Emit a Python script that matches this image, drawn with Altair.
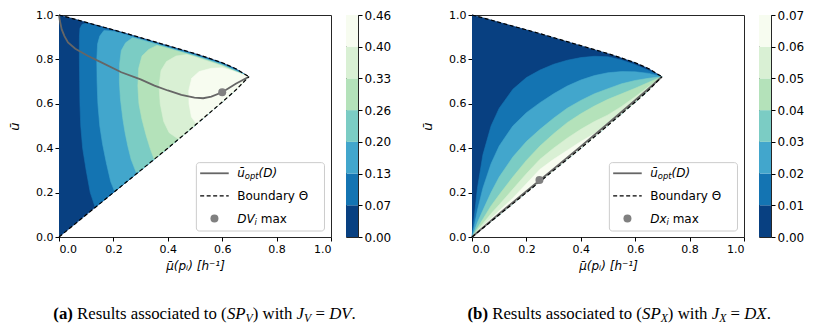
import altair as alt
import pandas as pd

# ---------------- data ----------------
TICKS = [0.0, 0.2, 0.4, 0.6, 0.8, 1.0]
BAND_COLORS = ["#084081", "#1474b2", "#42a6cc", "#7bccc4", "#b4e2ba", "#d9f0d4", "#f7fcf0"]
CB_A_EDGES = [0.0, 0.0661, 0.1323, 0.1984, 0.2646, 0.3307, 0.3969, 0.463]
CB_B_EDGES = [0.0, 0.01, 0.02, 0.03, 0.04, 0.05, 0.06, 0.07]

# boundary Theta (upper and lower edges)
UB_X = [0.0, 0.05, 0.1, 0.15, 0.2, 0.25, 0.3, 0.35, 0.4, 0.45, 0.5, 0.55, 0.6, 0.65, 0.698]
UB_Y = [1.0, 0.984, 0.967, 0.95, 0.933, 0.916, 0.898, 0.88, 0.862, 0.844, 0.826, 0.806, 0.785, 0.758, 0.722]
LB_X = [0.0, 0.1, 0.2, 0.3, 0.4, 0.5, 0.6, 0.65, 0.698]
LB_Y = [0.0, 0.1, 0.2, 0.3, 0.4, 0.503, 0.608, 0.662, 0.722]

# panel (a): level curves (from lower edge, up the left arm, along the top to the tip)
A1_X = [0.133, 0.115, 0.100, 0.087, 0.080, 0.077, 0.076, 0.075, 0.075, 0.077, 0.085, 0.10, 0.15, 0.2, 0.25, 0.3, 0.35, 0.4, 0.45, 0.5, 0.55, 0.6, 0.65, 0.698]
A1_Y = [0.134, 0.200, 0.300, 0.400, 0.500, 0.600, 0.700, 0.800, 0.900, 0.940, 0.958, 0.963, 0.946, 0.929, 0.912, 0.894, 0.876, 0.858, 0.840, 0.822, 0.802, 0.781, 0.754, 0.722]
A2_X = [0.204, 0.19, 0.174, 0.16, 0.15, 0.143, 0.14, 0.139, 0.142, 0.15, 0.165, 0.2, 0.25, 0.3, 0.35, 0.4, 0.45, 0.5, 0.55, 0.6, 0.65, 0.698]
A2_Y = [0.207, 0.25, 0.335, 0.42, 0.5, 0.6, 0.7, 0.8, 0.87, 0.905, 0.93, 0.927, 0.91, 0.892, 0.874, 0.856, 0.838, 0.82, 0.8, 0.779, 0.752, 0.722]
A3_X = [0.284, 0.265, 0.253, 0.243, 0.235, 0.226, 0.222, 0.223, 0.229, 0.245, 0.27, 0.3, 0.35, 0.4, 0.45, 0.5, 0.55, 0.6, 0.65, 0.698]
A3_Y = [0.29, 0.35, 0.41, 0.47, 0.53, 0.62, 0.7, 0.78, 0.84, 0.875, 0.897, 0.889, 0.871, 0.853, 0.835, 0.817, 0.797, 0.776, 0.749, 0.722]
A4_X = [0.35, 0.335, 0.32, 0.305, 0.294, 0.29, 0.293, 0.305, 0.33, 0.36, 0.4, 0.45, 0.5, 0.55, 0.6, 0.65, 0.698]
A4_Y = [0.35, 0.4, 0.46, 0.53, 0.6, 0.68, 0.76, 0.815, 0.845, 0.863, 0.85, 0.832, 0.814, 0.794, 0.773, 0.746, 0.722]
A5_X = [0.44, 0.405, 0.385, 0.372, 0.368, 0.375, 0.395, 0.43, 0.47, 0.5, 0.55, 0.6, 0.65, 0.698]
A5_Y = [0.44, 0.47, 0.52, 0.6, 0.68, 0.75, 0.79, 0.815, 0.822, 0.811, 0.791, 0.77, 0.743, 0.722]
A6_X = [0.505, 0.487, 0.478, 0.477, 0.488, 0.515, 0.56, 0.6, 0.64, 0.698]
A6_Y = [0.51, 0.54, 0.6, 0.66, 0.715, 0.745, 0.76, 0.762, 0.748, 0.722]

# panel (b): level curves from the origin to the tip
B_X = [0.0, 0.005, 0.01, 0.02, 0.04, 0.07, 0.1, 0.15, 0.2, 0.25, 0.3, 0.35, 0.4, 0.45, 0.5, 0.55, 0.6, 0.65, 0.698]
B1_Y = [0.0, 0.06, 0.11, 0.22, 0.37, 0.50, 0.58, 0.665, 0.718, 0.752, 0.778, 0.796, 0.808, 0.814, 0.812, 0.797, 0.776, 0.75, 0.722]
B2_Y = [0.0, 0.03, 0.06, 0.12, 0.22, 0.33, 0.41, 0.50, 0.56, 0.605, 0.645, 0.68, 0.707, 0.727, 0.74, 0.745, 0.744, 0.737, 0.722]
B3_Y = [0.0, 0.015, 0.03, 0.065, 0.12, 0.20, 0.27, 0.36, 0.43, 0.485, 0.535, 0.58, 0.615, 0.645, 0.668, 0.69, 0.705, 0.715, 0.722]
B4_Y = [0.0, 0.01, 0.02, 0.04, 0.08, 0.14, 0.19, 0.27, 0.345, 0.41, 0.465, 0.515, 0.555, 0.59, 0.62, 0.645, 0.67, 0.697, 0.722]
B5_Y = [0.0, 0.007, 0.014, 0.03, 0.06, 0.105, 0.145, 0.215, 0.285, 0.35, 0.40, 0.445, 0.485, 0.52, 0.55, 0.588, 0.632, 0.678, 0.722]
B6_X = [0.0, 0.005, 0.01, 0.02, 0.04, 0.07, 0.1, 0.15, 0.2, 0.25, 0.3, 0.35, 0.4, 0.45, 0.5, 0.55]
B6_Y = [0.0, 0.006, 0.012, 0.024, 0.048, 0.083, 0.118, 0.175, 0.24, 0.305, 0.35, 0.39, 0.43, 0.465, 0.51, 0.555]

# optimal-u curves and maxima
A_OPT_X = [0.0, 0.003, 0.01, 0.02, 0.033, 0.06, 0.107, 0.15, 0.229, 0.3, 0.351, 0.4, 0.45, 0.498, 0.53, 0.56, 0.6, 0.65, 0.698]
A_OPT_Y = [1.0, 0.975, 0.935, 0.905, 0.876, 0.848, 0.815, 0.79, 0.742, 0.71, 0.682, 0.66, 0.64, 0.628, 0.625, 0.632, 0.652, 0.69, 0.722]
A_MAX = [0.6, 0.652]
B_OPT_X = [0.0, 0.1, 0.2, 0.3, 0.4, 0.5, 0.6, 0.65, 0.698]
B_OPT_Y = [0.0, 0.105, 0.206, 0.307, 0.408, 0.511, 0.616, 0.669, 0.722]
B_MAX = [0.248, 0.257]

# legend layout (data units of the panel)
LEG_BOX = [0.505, 0.976, 0.027, 0.335]
LEG_ROWS = [0.287, 0.185, 0.083]
LEG_SAMPLE = [0.519, 0.624]
LEG_TEXT_X = 0.655

X_TITLE = "μ̄(pᵢ) [h⁻¹]"
Y_TITLE = "ū"

# caption runs: (text, style, weight, scale, dy)
CAP_A = [("(a)", "normal", "bold", 1.0, 0), (" Results associated to (", "normal", "normal", 1.0, 0),
         ("SP", "italic", "normal", 1.0, 0), ("V", "italic", "normal", 0.7, 4), (") with ", "normal", "normal", 1.0, 0),
         ("J", "italic", "normal", 1.0, 0), ("V", "italic", "normal", 0.7, 4), (" = ", "normal", "normal", 1.0, 0),
         ("DV", "italic", "normal", 1.0, 0), (".", "normal", "normal", 1.0, 0)]
CAP_B = [("(b)", "normal", "bold", 1.0, 0), (" Results associated to (", "normal", "normal", 1.0, 0),
         ("SP", "italic", "normal", 1.0, 0), ("X", "italic", "normal", 0.7, 4), (") with ", "normal", "normal", 1.0, 0),
         ("J", "italic", "normal", 1.0, 0), ("X", "italic", "normal", 0.7, 4), (" = ", "normal", "normal", 1.0, 0),
         ("DX", "italic", "normal", 1.0, 0), (".", "normal", "normal", 1.0, 0)]
LEG_A1 = [("ū", "italic", "normal", 1.0, 0), ("opt", "italic", "normal", 0.7, 3), ("(D)", "italic", "normal", 1.0, 0)]
LEG_A3 = [("DV", "italic", "normal", 1.0, 0), ("i", "italic", "normal", 0.7, 3), (" max", "normal", "normal", 1.0, 0)]
LEG_B3 = [("Dx", "italic", "normal", 1.0, 0), ("i", "italic", "normal", 0.7, 3), (" max", "normal", "normal", 1.0, 0)]

# ---------------- styling ----------------
W, H = 272, 222
CB_W = 12
CAP_SIZE = 16.8
LEG_SIZE = 12
TICK_SIZE = 11

TIMES = {' ': 250, '(': 333, ')': 333, '.': 250, '=': 564, 'a': 444, 'b': 500, 'c': 444, 'd': 500, 'e': 444,
         'h': 500, 'i': 278, 'l': 278, 'o': 500, 'R': 667, 's': 389, 't': 278, 'u': 500, 'w': 722, 'S': 556,
         'P': 556, 'J': 389, 'D': 722, 'V': 722, 'X': 722}
TIMES_I = {'S': 500, 'P': 611, 'J': 444, 'D': 722, 'V': 611, 'X': 611}
TIMES_B = {'(': 333, ')': 333, 'a': 500, 'b': 556}
DJV = {'u': 634, 'ū': 634, 'o': 612, 'p': 635, 't': 392, '(': 390, ')': 390, 'D': 770, ' ': 318,
       'm': 974, 'a': 613, 'x': 592, 'i': 278, 'V': 684}


def width_of(text, style, weight, family):
    w = 0
    for ch in text:
        if family == "times":
            if weight == "bold" and ch in TIMES_B:
                w += TIMES_B[ch]
            elif style == "italic" and ch in TIMES_I:
                w += TIMES_I[ch]
            else:
                w += TIMES.get(ch, 500)
        else:
            w += DJV.get(ch, 600)
    return w / 1000.0


XS = alt.Scale(domain=[0, 1], nice=False, zero=False)
YS = alt.Scale(domain=[0, 1], nice=False, zero=False)
X_AX = alt.Axis(values=TICKS, format=".1f", title=X_TITLE, titleFontStyle="italic", titleFontWeight="normal",
                titleFontSize=12, titlePadding=6, domain=False, grid=False)
Y_AX = alt.Axis(values=TICKS, format=".1f", title=Y_TITLE, titleFontStyle="italic", titleFontWeight="normal",
                titleFontSize=13, titlePadding=14, domain=False, grid=False)


def xenc(f="x"):
    return alt.X(f + ":Q", scale=XS, axis=X_AX)


def yenc(f="y"):
    return alt.Y(f + ":Q", scale=YS, axis=Y_AX)


def poly(xs, ys, color):
    df = pd.DataFrame({"x": xs, "y": ys, "i": list(range(len(xs)))})
    return alt.Chart(df).mark_line(fill=color, stroke=color, strokeWidth=0.6, strokeJoin="round").encode(
        x=xenc(), y=yenc(), order="i:Q")


def line(xs, ys, color, width, dash=None):
    df = pd.DataFrame({"x": xs, "y": ys, "i": list(range(len(xs)))})
    kw = dict(color=color, strokeWidth=width)
    if dash:
        kw["strokeDash"] = dash
    return alt.Chart(df).mark_line(**kw).encode(x=xenc(), y=yenc(), order="i:Q")


def text_run(pieces, x, y, font, size, family, center=False):
    items = []
    off = 0.0
    for t, st, wt, sc, dy in pieces:
        fs = size * sc
        lead = len(t) - len(t.lstrip(" "))
        trail = len(t) - len(t.rstrip(" "))
        core = t.strip(" ")
        sp = width_of(" ", st, wt, family) * fs
        off += lead * sp
        items.append((core, st, wt, fs, dy, off))
        off += width_of(core, st, wt, family) * fs + trail * sp
    shift = -off / 2 if center else 0.0
    layers = []
    for core, st, wt, fs, dy, o in items:
        df = pd.DataFrame({"x": [x], "y": [y], "t": [core]})
        layers.append(alt.Chart(df).mark_text(align="left", baseline="middle", dx=o + shift, dy=dy, font=font,
                                              fontSize=fs, fontStyle=st, fontWeight=wt, color="black")
                      .encode(x=xenc(), y=yenc(), text="t:N"))
    return layers


def dot_layer(pt):
    df = pd.DataFrame({"x": [pt[0]], "y": [pt[1]]})
    return alt.Chart(df).mark_circle(size=64, color="#808080", opacity=1).encode(x=xenc(), y=yenc())


def legend(label3):
    box = pd.DataFrame({"x": [LEG_BOX[0]], "x2": [LEG_BOX[1]], "y": [LEG_BOX[2]], "y2": [LEG_BOX[3]]})
    layers = [alt.Chart(box).mark_rect(fill="white", fillOpacity=0.8, stroke="#cccccc", strokeWidth=1,
                                       cornerRadius=3).encode(x=xenc(), x2="x2:Q", y=yenc(), y2="y2:Q")]
    layers.append(line(LEG_SAMPLE, [LEG_ROWS[0]] * 2, "#666666", 1.8))
    layers.append(line(LEG_SAMPLE, [LEG_ROWS[1]] * 2, "black", 1.2, [4, 2.5]))
    layers.append(dot_layer([(LEG_SAMPLE[0] + LEG_SAMPLE[1]) / 2, LEG_ROWS[2]]))
    layers += text_run(LEG_A1, LEG_TEXT_X, LEG_ROWS[0], "DejaVu Sans", LEG_SIZE, "djv")
    df = pd.DataFrame({"x": [LEG_TEXT_X], "y": [LEG_ROWS[1]], "t": ["Boundary Θ"]})
    layers.append(alt.Chart(df).mark_text(align="left", baseline="middle", font="DejaVu Sans", fontSize=LEG_SIZE,
                                          color="black").encode(x=xenc(), y=yenc(), text="t:N"))
    layers += text_run(label3, LEG_TEXT_X, LEG_ROWS[2], "DejaVu Sans", LEG_SIZE, "djv")
    return layers


def triangle():
    return poly(UB_X + LB_X[::-1][1:], UB_Y + LB_Y[::-1][1:], BAND_COLORS[0])


def panel_a():
    layers = [triangle()]
    arms = [(A1_X, A1_Y), (A2_X, A2_Y), (A3_X, A3_Y), (A4_X, A4_Y), (A5_X, A5_Y), (A6_X, A6_Y)]
    for k, (ax, ay) in enumerate(arms):
        bx = [x for x in LB_X[::-1] if ax[0] < x < 0.698]
        by = [LB_Y[LB_X.index(x)] for x in bx]
        layers.append(poly(ax + bx + [ax[0]], ay + by + [ay[0]], BAND_COLORS[k + 1]))
    layers.append(line(A_OPT_X, A_OPT_Y, "#666666", 1.8))
    layers.append(line(UB_X, UB_Y, "black", 1.2, [4, 2.5]))
    layers.append(line(LB_X, LB_Y, "black", 1.2, [4, 2.5]))
    layers.append(dot_layer(A_MAX))
    layers += legend(LEG_A3)
    layers += text_run(CAP_A, 0.535, -0.348, "Liberation Serif", CAP_SIZE, "times", center=True)
    return alt.layer(*layers).properties(width=W, height=H)


def panel_b():
    layers = [triangle()]
    arms = [(B_X, B1_Y), (B_X, B2_Y), (B_X, B3_Y), (B_X, B4_Y), (B_X, B5_Y), (B6_X, B6_Y)]
    for k, (ax, ay) in enumerate(arms):
        bx = [x for x in LB_X[::-1] if x < ax[-1]]
        by = [LB_Y[LB_X.index(x)] for x in bx]
        layers.append(poly(ax + bx, ay + by, BAND_COLORS[k + 1]))
    layers.append(line(B_OPT_X, B_OPT_Y, "#666666", 1.8))
    layers.append(line(UB_X, UB_Y, "black", 1.2, [4, 2.5]))
    layers.append(line(LB_X, LB_Y, "black", 1.2, [4, 2.5]))
    layers.append(dot_layer(B_MAX))
    layers += legend(LEG_B3)
    layers += text_run(CAP_B, 0.541, -0.348, "Liberation Serif", CAP_SIZE, "times", center=True)
    return alt.layer(*layers).properties(width=W, height=H)


def colorbar(edges):
    df = pd.DataFrame({"lo": edges[:-1], "hi": edges[1:], "c": BAND_COLORS, "x0": [0] * 7, "x1": [1] * 7})
    return alt.Chart(df).mark_rect().encode(
        x=alt.X("x0:Q", scale=alt.Scale(domain=[0, 1], nice=False, zero=False), axis=None),
        x2="x1:Q",
        y=alt.Y("lo:Q", scale=alt.Scale(domain=[edges[0], edges[-1]], nice=False, zero=False),
                axis=alt.Axis(orient="right", values=edges, format=".2f", title=None, domain=False, grid=False,
                              labelFontSize=12)),
        y2="hi:Q",
        color=alt.Color("c:N", scale=None),
    ).properties(width=CB_W, height=H)


spacer = alt.Chart(pd.DataFrame({"a": [0]})).mark_point(opacity=0).encode(
    x=alt.value(0), y=alt.value(0)).properties(width=84, height=H, view=alt.ViewBackground(stroke="transparent"))

chart = alt.hconcat(panel_a(), colorbar(CB_A_EDGES), spacer, panel_b(), colorbar(CB_B_EDGES),
                    spacing=15, bounds="flush").properties(
    padding={"left": 0, "top": 0, "right": 5, "bottom": 5}
).configure_view(stroke="#262626", strokeWidth=1).configure_axis(
    labelFont="DejaVu Sans", titleFont="DejaVu Sans", labelFontSize=TICK_SIZE, labelColor="black",
    tickColor="black", tickSize=4, labelPadding=2, titleColor="black"
)

chart.save("out.html", embed_options={"renderer": "svg", "actions": False})
